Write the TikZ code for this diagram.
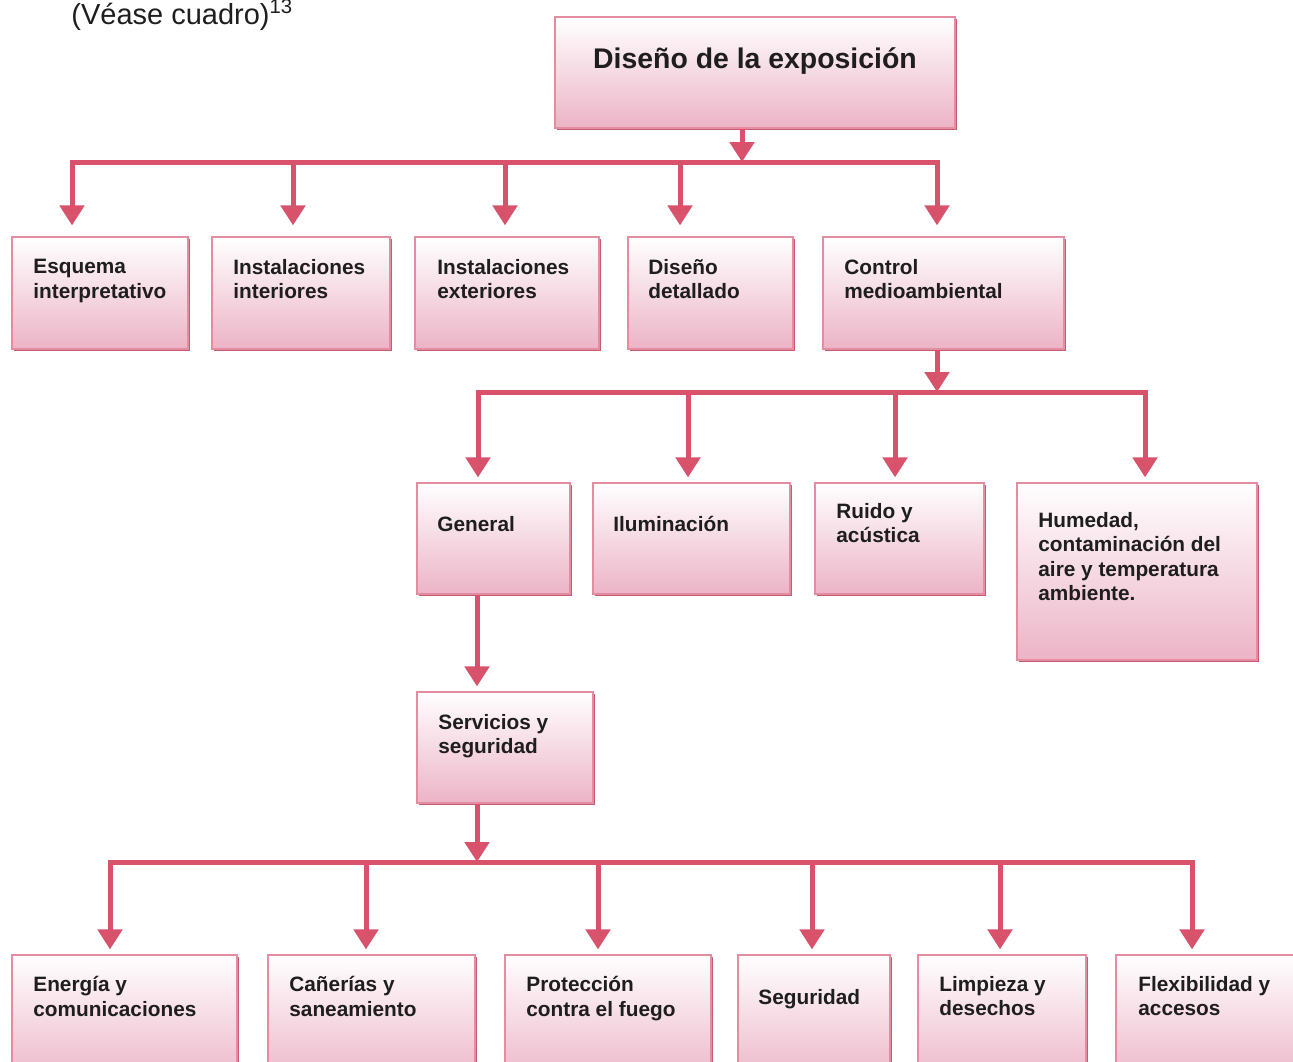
\documentclass[tikz,border=0pt]{standalone}
\usepackage{fontspec}
\setmainfont{Liberation Sans}
\usetikzlibrary{arrows.meta,shadows,fit}
\definecolor{linepink}{RGB}{216,82,108}
\definecolor{boxborder}{RGB}{228,140,160}
\definecolor{boxlow}{RGB}{236,180,198}
\definecolor{boxmid}{RGB}{249,230,237}
\definecolor{boxshadow}{RGB}{196,92,116}
\definecolor{ink}{RGB}{30,30,30}
\begin{document}
\begin{tikzpicture}[x=0.5pt,y=-0.5pt,
  box/.style={draw=boxborder, line width=0.6pt, inner sep=0pt,
    top color=white, middle color=boxmid, bottom color=boxlow,
    drop shadow={shadow xshift=1.2pt, shadow yshift=-1.2pt, fill=boxshadow, opacity=1}},
  txt/.style={font=\bfseries\fontsize{10.4}{12.2}\selectfont, text=ink, align=left,
    inner sep=0pt, anchor=north west, execute at begin node=\strut},
  conn/.style={draw=linepink, line width=2.5pt, -{Triangle[width=12pt,length=10pt]}},
  bar/.style={draw=linepink, line width=2.5pt, line cap=rect}]
\useasboundingbox (0,0) rectangle (1293,1061);
\clip (0,0) rectangle (1293,1061);

% heading text
\node[font=\fontsize{14.5}{17}\selectfont, text=ink, inner sep=0pt, anchor=base west]
  (head) at (71,24) {(Véase cuadro)\textsuperscript{13}};

% boxes
\node[box, fit={(555,17) (955,128)}] (root) {};
\node[box, fit={(12,237) (188,349)}] (esq) {};
\node[box, fit={(212,237) (390,349)}] (inti) {};
\node[box, fit={(415,237) (599,349)}] (inte) {};
\node[box, fit={(628,237) (793,349)}] (dis) {};
\node[box, fit={(823,237) (1064,349)}] (ctl) {};
\node[box, fit={(417,483) (570,594)}] (gen) {};
\node[box, fit={(593,483) (790,594)}] (ilu) {};
\node[box, fit={(815,483) (984,594)}] (rui) {};
\node[box, fit={(1017,483) (1257,660)}] (hum) {};
\node[box, fit={(417,692) (593,803)}] (ser) {};
\node[box, fit={(12,955) (237,1085)}] (ene) {};
\node[box, fit={(268,955) (475,1085)}] (can) {};
\node[box, fit={(505,955) (711,1085)}] (pro) {};
\node[box, fit={(738,955) (890,1085)}] (seg) {};
\node[box, fit={(918,955) (1086,1085)}] (lim) {};
\node[box, fit={(1116,955) (1320,1085)}] (fle) {};

% texts
\node[font=\bfseries\fontsize{14.2}{17}\selectfont, text=ink, inner sep=0pt, anchor=base]
  (root-t) at (755,68) {Diseño de la exposición};
\node[txt] (esq-t) at (33,259) {Esquema\\interpretativo};
\node[txt] (inti-t) at (233,259) {Instalaciones\\interiores};
\node[txt] (inte-t) at (437,259) {Instalaciones\\exteriores};
\node[txt] (dis-t) at (648,259) {Diseño\\detallado};
\node[txt] (ctl-t) at (844,259) {Control\\medioambiental};
\node[txt] (gen-t) at (437,514) {General};
\node[txt] (ilu-t) at (613,514) {Iluminación};
\node[txt] (rui-t) at (836,503) {Ruido y\\acústica};
\node[txt] (hum-t) at (1038,512) {Humedad,\\contaminación del\\aire y temperatura\\ambiente.};
\node[txt] (ser-t) at (438,714) {Servicios y\\seguridad};
\node[txt] (ene-t) at (33,976) {Energía y\\comunicaciones};
\node[txt] (can-t) at (289,976) {Cañerías y\\saneamiento};
\node[txt] (pro-t) at (526,976) {Protección\\contra el fuego};
\node[txt] (seg-t) at (758,987) {Seguridad};
\node[txt] (lim-t) at (939,976) {Limpieza y\\desechos};
\node[txt] (fle-t) at (1138,976) {Flexibilidad y\\accesos};

% level 1 connectors
\coordinate (f1) at (742,162);
\coordinate (d11) at (72,162);
\coordinate (d12) at (293,162);
\coordinate (d13) at (505,162);
\coordinate (d14) at (680,162);
\coordinate (d15) at (937,162);
\draw[bar] (d11) -- (d15);
\draw[conn] (root.south -| f1) -- (f1);
\draw[conn, shorten >=5.5pt] (d11) -- (d11 |- esq.north);
\draw[conn, shorten >=5.5pt] (d12) -- (d12 |- inti.north);
\draw[conn, shorten >=5.5pt] (d13) -- (d13 |- inte.north);
\draw[conn, shorten >=5.5pt] (d14) -- (d14 |- dis.north);
\draw[conn, shorten >=5.5pt] (d15) -- (d15 |- ctl.north);

% level 2 connectors
\coordinate (f2) at (937,392);
\coordinate (d21) at (478,392);
\coordinate (d22) at (688,392);
\coordinate (d23) at (895,392);
\coordinate (d24) at (1145,392);
\draw[bar] (d21) -- (d24);
\draw[conn] (ctl.south -| f2) -- (f2);
\draw[conn, shorten >=2.5pt] (d21) -- (d21 |- gen.north);
\draw[conn, shorten >=2.5pt] (d22) -- (d22 |- ilu.north);
\draw[conn, shorten >=2.5pt] (d23) -- (d23 |- rui.north);
\draw[conn, shorten >=2.5pt] (d24) -- (d24 |- hum.north);

% general -> servicios
\coordinate (g1) at (477,594);
\draw[conn, shorten >=2.5pt] (gen.south -| g1) -- (g1 |- ser.north);

% level 3 connectors
\coordinate (f3) at (477,862);
\coordinate (d31) at (110,862);
\coordinate (d32) at (366,862);
\coordinate (d33) at (598,862);
\coordinate (d34) at (812,862);
\coordinate (d35) at (1000,862);
\coordinate (d36) at (1192,862);
\draw[bar] (d31) -- (d36);
\draw[conn] (ser.south -| f3) -- (f3);
\draw[conn, shorten >=2.5pt] (d31) -- (d31 |- ene.north);
\draw[conn, shorten >=2.5pt] (d32) -- (d32 |- can.north);
\draw[conn, shorten >=2.5pt] (d33) -- (d33 |- pro.north);
\draw[conn, shorten >=2.5pt] (d34) -- (d34 |- seg.north);
\draw[conn, shorten >=2.5pt] (d35) -- (d35 |- lim.north);
\draw[conn, shorten >=2.5pt] (d36) -- (d36 |- fle.north);
\end{tikzpicture}
\end{document}
